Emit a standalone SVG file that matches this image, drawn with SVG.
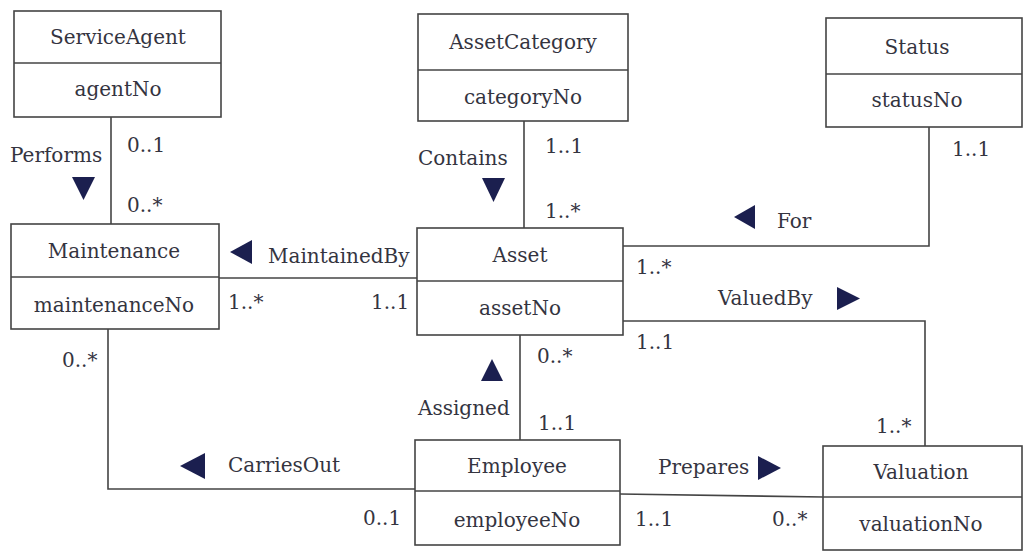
<svg xmlns="http://www.w3.org/2000/svg" width="1027" height="551" viewBox="0 0 1027 551">
<style>
.box{fill:#fff;stroke:#444;stroke-width:1.6}
.ln{fill:none;stroke:#444;stroke-width:1.6}
text{font-family:"DejaVu Serif","Liberation Serif",serif;font-size:20px;fill:#34343f}
.c{text-anchor:middle}
.tri{fill:#1b1f4f}
</style>
<rect width="1027" height="551" fill="#fff"/>
<g id="connectors">
<path class="ln" d="M111,117 V224"/>
<path class="ln" d="M524,121 V228"/>
<path class="ln" d="M623,246 H929 V127"/>
<path class="ln" d="M219,278 H417"/>
<path class="ln" d="M623,321 H925 V446"/>
<path class="ln" d="M520,335 V440"/>
<path class="ln" d="M108,329 V489 H415"/>
<path class="ln" d="M620,494 L823,497"/>
<polygon class="tri" points="72,177 95,177 83.5,200"/>
<polygon class="tri" points="482,178 505,178 493.5,202"/>
<polygon class="tri" points="734,217 755,205 755,229"/>
<polygon class="tri" points="230,252 252,240 252,264"/>
<polygon class="tri" points="837,287 837,310 860,298.5"/>
<polygon class="tri" points="481,381 503,381 492,359"/>
<polygon class="tri" points="180,466 205,453 205,479"/>
<polygon class="tri" points="758,456 758,480 781,468"/>
<text x="10" y="162">Performs</text>
<text x="127" y="152">0..1</text>
<text x="127" y="212">0..*</text>
<text x="418" y="165">Contains</text>
<text x="545" y="153">1..1</text>
<text x="545" y="218">1..*</text>
<text x="777" y="228">For</text>
<text x="952" y="156">1..1</text>
<text x="636" y="274">1..*</text>
<text x="268" y="263">MaintainedBy</text>
<text x="228" y="309">1..*</text>
<text x="371" y="309">1..1</text>
<text x="718" y="305">ValuedBy</text>
<text x="636" y="349">1..1</text>
<text x="62" y="367">0..*</text>
<text x="537" y="363">0..*</text>
<text x="418" y="415">Assigned</text>
<text x="538" y="430">1..1</text>
<text x="876" y="433">1..*</text>
<text x="228" y="472">CarriesOut</text>
<text x="658" y="474">Prepares</text>
<text x="363" y="525">0..1</text>
<text x="635" y="526">1..1</text>
<text x="772" y="526">0..*</text>
</g>
<g id="ServiceAgent">
<rect class="box" x="14" y="11" width="207" height="106"/>
<line class="ln" x1="14" y1="63" x2="221" y2="63"/>
<text class="c" x="118" y="44">ServiceAgent</text>
<text class="c" x="118" y="96">agentNo</text>
</g>
<g id="AssetCategory">
<rect class="box" x="418" y="14" width="210" height="107"/>
<line class="ln" x1="418" y1="70" x2="628" y2="70"/>
<text class="c" x="523" y="49">AssetCategory</text>
<text class="c" x="523" y="104">categoryNo</text>
</g>
<g id="Status">
<rect class="box" x="826" y="18" width="196" height="109"/>
<line class="ln" x1="826" y1="74" x2="1022" y2="74"/>
<text class="c" x="917" y="54">Status</text>
<text class="c" x="917" y="107">statusNo</text>
</g>
<g id="Maintenance">
<rect class="box" x="11" y="224" width="208" height="105"/>
<line class="ln" x1="11" y1="277" x2="219" y2="277"/>
<text class="c" x="114" y="258">Maintenance</text>
<text class="c" x="114" y="312">maintenanceNo</text>
</g>
<g id="Asset">
<rect class="box" x="417" y="228" width="206" height="107"/>
<line class="ln" x1="417" y1="281" x2="623" y2="281"/>
<text class="c" x="520" y="262">Asset</text>
<text class="c" x="520" y="315">assetNo</text>
</g>
<g id="Employee">
<rect class="box" x="415" y="440" width="205" height="105"/>
<line class="ln" x1="415" y1="491" x2="620" y2="491"/>
<text class="c" x="517" y="473">Employee</text>
<text class="c" x="517" y="527">employeeNo</text>
</g>
<g id="Valuation">
<rect class="box" x="823" y="446" width="199" height="104"/>
<line class="ln" x1="823" y1="497" x2="1022" y2="497"/>
<text class="c" x="921" y="479">Valuation</text>
<text class="c" x="921" y="531">valuationNo</text>
</g>
</svg>
